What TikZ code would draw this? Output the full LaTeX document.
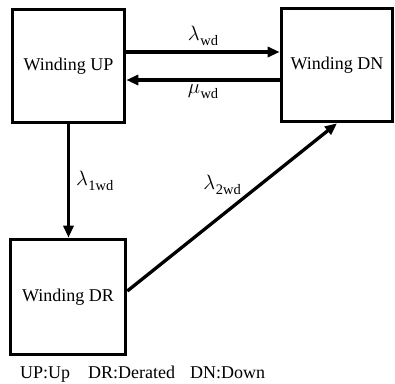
\documentclass[tikz,border=0pt]{standalone}
\usepackage{fontspec}
\setmainfont{Liberation Serif}
\usetikzlibrary{arrows.meta}
\newcommand\grk[2]{{\fontsize{21}{21}\selectfont$#1$}\kern0.5pt\raisebox{-5pt}{\fontsize{14.5}{14.5}\selectfont #2}}
\tikzset{
  statebox/.style={draw, line width=3.6pt, minimum width=112pt, minimum height=113pt, inner sep=0pt, font=\fontsize{18}{20}\selectfont},
  arr/.style={line width=3.3pt, -{Triangle[length=12pt,width=10pt]}},
  lbl/.style={font=\fontsize{18}{20}\selectfont, inner sep=0pt}
}
\begin{document}
\begin{tikzpicture}[x=1pt,y=-1pt]
\useasboundingbox (0,0) rectangle (395,383);
\node[statebox] (UP) at (68.5,66) {Winding UP};
\node[statebox, minimum width=111pt] (DN) at (337,65) {Winding DN};
\node[statebox, minimum width=115pt, minimum height=115pt] (DR) at (68,297) {Winding DR};
\path ([yshift=14pt]UP.east) coordinate (t1);
\path ([yshift=-14pt]UP.east) coordinate (b1);
\draw[arr] (t1) -- node[lbl, above=5pt] {\grk{\lambda}{wd}} (t1 -| DN.west);
\draw[arr] (b1 -| DN.west) -- node[lbl, below=3pt] {\grk{\mu}{wd}} (b1);
\draw[arr] (UP.south) -- node[lbl, right=6pt] {\grk{\lambda}{1wd}} (UP.south |- DR.north);
\path ([yshift=6pt]DR.east) coordinate (d1);
\draw[arr] (d1) -- node[lbl, midway, xshift=-10pt, yshift=22pt] {\grk{\lambda}{2wd}} (DN.south);
\node[lbl, anchor=base west] (foot) at (20,378) {UP:Up\hspace{18pt}DR:Derated\hspace{15pt}DN:Down};
\end{tikzpicture}
\end{document}
